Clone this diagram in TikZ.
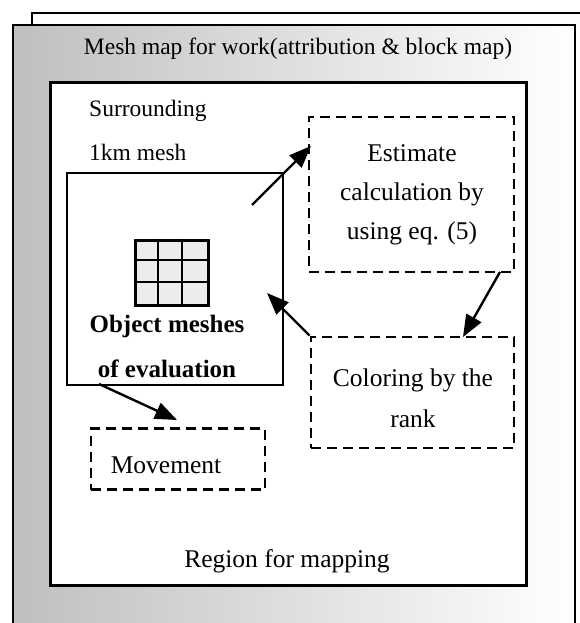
\documentclass[tikz,border=0pt]{standalone}
\usepackage{fontspec}
\setmainfont{Liberation Serif}
\usetikzlibrary{arrows.meta}
\tikzset{
  boxsolid/.style={draw, line width=2.4pt, fill=white, minimum width=216pt, minimum height=212pt, inner sep=0pt},
  boxdash/.style={draw, line width=2.8pt, dash pattern=on 10pt off 6pt, inner sep=0pt},
  txt/.style={font=\fontsize{25.5}{28}\selectfont, anchor=base, inner sep=0pt},
  stxt/.style={font=\fontsize{23.5}{26}\selectfont, anchor=base, inner sep=0pt},
  btxt/.style={font=\fontsize{25}{28}\selectfont\bfseries, anchor=base, inner sep=0pt},
  arr/.style={line width=2.4pt, -{Triangle[length=22pt,width=17pt]}},
}
\begin{document}
\begin{tikzpicture}[x=1pt,y=-1pt]
\useasboundingbox (0,0) rectangle (579,623);
% back sheet
\draw[line width=2pt] (32,640) -- (32,13) -- (600,13);
% front sheet
\node[draw, line width=2.8pt, left color=gray!50, middle color=white, right color=white,
      minimum width=562pt, minimum height=615pt, inner sep=0pt] (front) at (294,332.5) {};
% inner region
\node[draw, line width=3pt, fill=white, minimum width=476pt, minimum height=502pt, inner sep=0pt] (region) at (288,334) {};
\node[stxt] (meshmap) at (298,55) {Mesh map for work(attribution \& block map)};
\node[txt] (regiontxt) at (287,567) {Region for mapping};
\node[stxt, anchor=base west] (surr) at (89,117) {Surrounding};
\node[stxt, anchor=base west] (km) at (89,160) {1km mesh};
% object meshes box
\node[boxsolid] (obj) at (175,279) {};
\node[draw, line width=3pt, fill=gray!15, minimum width=73pt, minimum height=65pt, inner sep=0pt] (grid) at (171.5,272.5) {};
\draw[line width=2.5pt] (grid.north west) ++(24.3,0) -- ++(0,65);
\draw[line width=2.5pt] (grid.north west) ++(48.7,0) -- ++(0,65);
\draw[line width=2.5pt] (grid.north west) ++(0,21.7) -- ++(73,0);
\draw[line width=2.5pt] (grid.north west) ++(0,43.3) -- ++(73,0);
\node[btxt] (objtxt1) at (167,332) {Object meshes};
\node[btxt] (objtxt2) at (167,377) {of evaluation};
% estimate box
\node[boxdash, minimum width=205pt, minimum height=155pt] (est) at (411.5,194.5) {};
\node[txt] (est1) at (412,161) {Estimate};
\node[txt] (est2) at (412,200) {calculation by};
\node[txt] (est3) at (412,239) {using eq. (5)};
% coloring box
\node[boxdash, minimum width=203pt, minimum height=111pt] (col) at (412.5,392.5) {};
\node[txt] (col1) at (413,386) {Coloring by the};
\node[txt] (col2) at (413,427) {rank};
% movement box
\node[boxdash, minimum width=174pt, minimum height=61pt] (mov) at (178,459) {};
\node[txt] (movtxt) at (166,473) {Movement};
% arrows
\coordinate (a1s) at (252,205);
\coordinate (a1e) at (311,146);
\coordinate (a2s) at (500,272);
\coordinate (a2e) at (463,337);
\coordinate (a4s) at (99,384);
\coordinate (a4e) at (177,420);
\coordinate (a3e) at (267,293);
\draw[arr] (a1s) -- (a1e);
\draw[arr] (a2s) -- (a2e);
\draw[arr] (col.north west) -- (a3e);
\draw[arr] (a4s) -- (a4e);
\end{tikzpicture}
\end{document}
